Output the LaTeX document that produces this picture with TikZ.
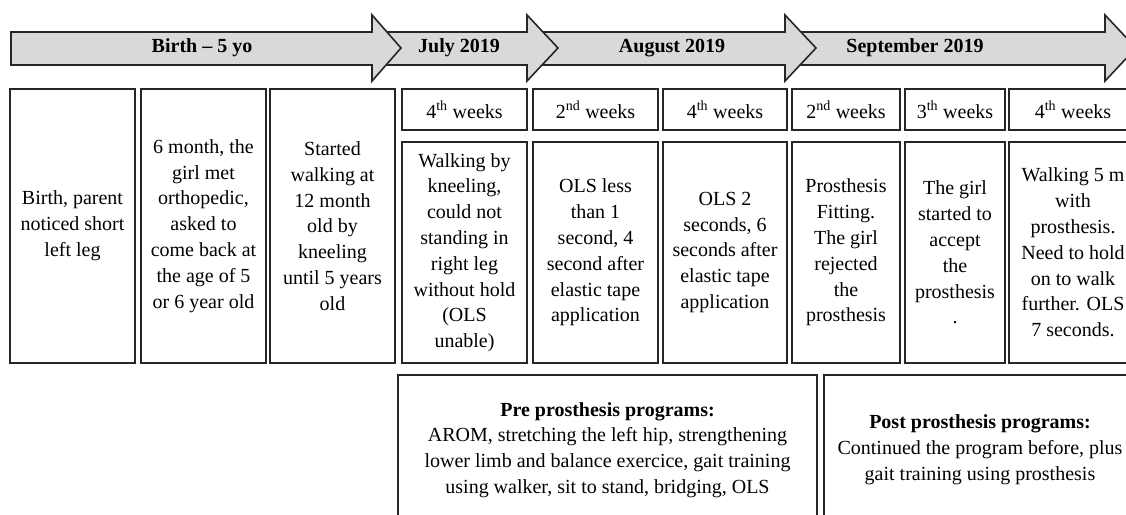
\documentclass[tikz,border=0pt]{standalone}
\usepackage{fontspec}
\setmainfont{Liberation Serif}
\begin{document}
\begin{tikzpicture}[x=1pt,y=-1pt,
  txt/.style={font=\fontsize{20}{25.8}\selectfont, align=center},
  box/.style={txt, draw=black!85, line width=1.6pt, inner sep=0pt},
  tarrow/.style={draw=black!85, fill=black!15, line width=1.6pt, line join=miter},
  alabel/.style={font=\fontsize{20}{24}\selectfont\bfseries}
]
\useasboundingbox (0,0) rectangle (1126,514);
\clip (0,0) rectangle (1126,514);
\fill[white] (0,0) rectangle (1126,514);
% timeline arrows (later ones first, so earlier heads overlap)
\draw[tarrow] (785,32) -- (1105,32) -- (1105,15) -- (1136,48) -- (1105,81) -- (1105,65) -- (785,65) -- cycle;
\draw[tarrow] (527,32) -- (785,32) -- (785,15) -- (816,48) -- (785,81) -- (785,65) -- (527,65) -- cycle;
\draw[tarrow] (372,32) -- (527,32) -- (527,15) -- (558,48) -- (527,81) -- (527,65) -- (372,65) -- cycle;
\draw[tarrow] (11,32) -- (372,32) -- (372,15) -- (401,48) -- (372,81) -- (372,65) -- (11,65) -- cycle;
\node[alabel] (l1) at (202,48) {Birth -- 5 yo};
\node[alabel] (l2) at (459,48) {July 2019};
\node[alabel] (l3) at (672,48) {August 2019};
\node[alabel] (l4) at (915,48) {September 2019};
% early boxes
\node[box, minimum width=125, minimum height=274] (b1) at (72.5,226) {Birth, parent\\noticed short\\left leg};
\node[box, minimum width=125, minimum height=274] (b2) at (203.5,226) {6 month, the\\girl met\\orthopedic,\\asked to\\come back at\\the age of 5\\or 6 year old};
\node[box, minimum width=125, minimum height=274] (b3) at (332.5,226) {Started\\walking at\\12 month\\old by\\kneeling\\until 5 years\\old};
% week headers
\node[box, minimum width=125, minimum height=41] (h1) at (464.5,109.5) {4\textsuperscript{th} weeks};
\node[box, minimum width=125, minimum height=41] (h2) at (595.5,109.5) {2\textsuperscript{nd} weeks};
\node[box, minimum width=124, minimum height=41] (h3) at (725,109.5) {4\textsuperscript{th} weeks};
\node[box, minimum width=108, minimum height=41] (h4) at (846,109.5) {2\textsuperscript{nd} weeks};
\node[box, minimum width=100, minimum height=41] (h5) at (955,109.5) {3\textsuperscript{th} weeks};
\node[box, minimum width=128, minimum height=41] (h6) at (1073,109.5) {4\textsuperscript{th} weeks};
% week contents
\node[box, minimum width=125, minimum height=221] (c1) at (464.5,252.5) {Walking by\\kneeling,\\could not\\standing in\\right leg\\without hold\\(OLS\\unable)};
\node[box, minimum width=125, minimum height=221] (c2) at (595.5,252.5) {OLS less\\than 1\\second, 4\\second after\\elastic tape\\application};
\node[box, minimum width=124, minimum height=221] (c3) at (725,252.5) {OLS 2\\seconds, 6\\seconds after\\elastic tape\\application};
\node[box, minimum width=108, minimum height=221] (c4) at (846,252.5) {Prosthesis\\Fitting.\\The girl\\rejected\\the\\prosthesis};
\node[box, minimum width=100, minimum height=221] (c5) at (955,252.5) {The girl\\started to\\accept\\the\\prosthesis\\.};
\node[box, minimum width=128, minimum height=221] (c6) at (1073,252.5) {Walking 5 m\\with\\prosthesis.\\Need to hold\\on to walk\\further. OLS\\7 seconds.};
% programs
\node[box, minimum width=419, minimum height=150] (pre) at (607.5,450) {\textbf{Pre prosthesis programs:}\\AROM, stretching the left hip, strengthening\\lower limb and balance exercice, gait training\\using walker, sit to stand, bridging, OLS};
\node[box, minimum width=312, minimum height=150] (post) at (980,450) {\textbf{Post prosthesis programs:}\\Continued the program before, plus\\gait training using prosthesis};
\end{tikzpicture}
\end{document}
